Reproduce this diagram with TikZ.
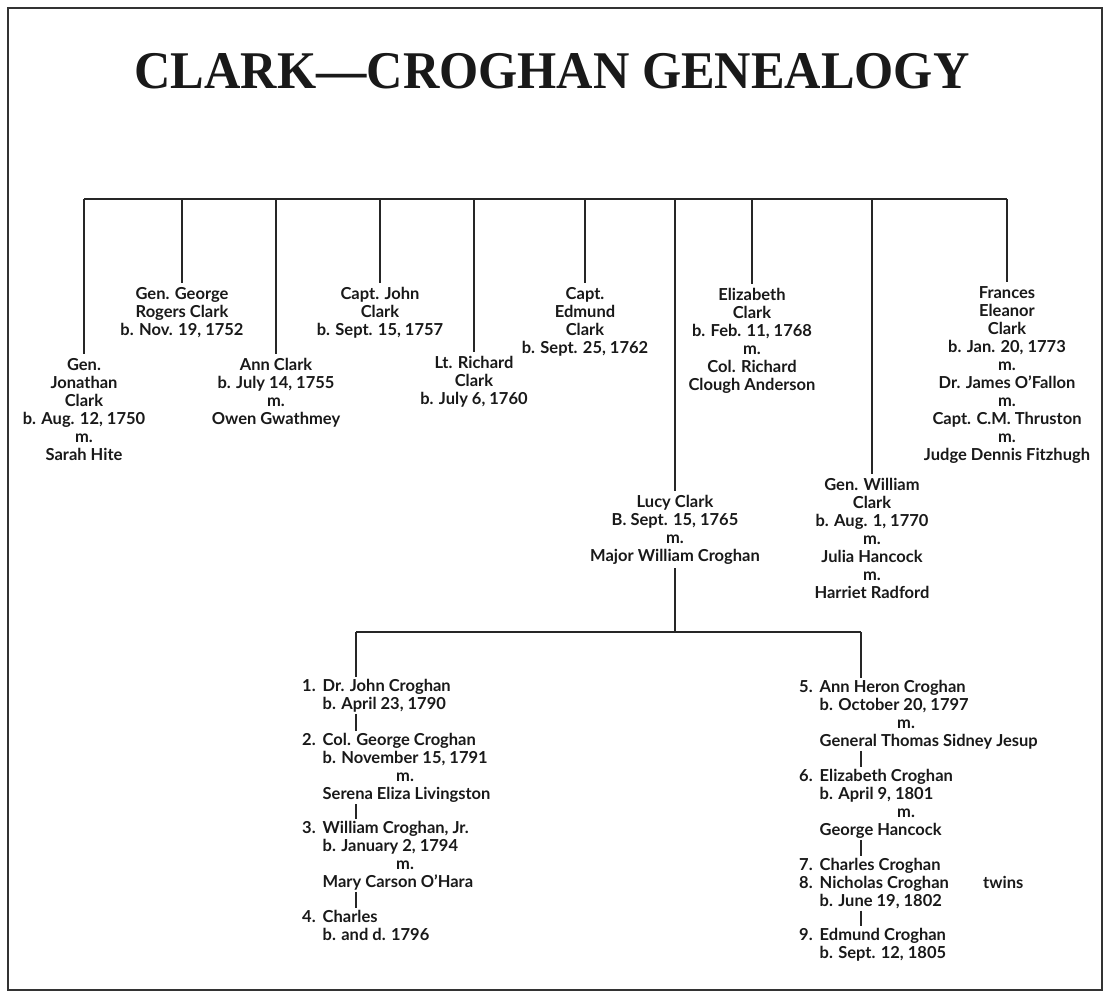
\documentclass[tikz,border=0pt]{standalone}
\usepackage{fontspec}
\setmainfont{Lato}
\newfontfamily\titleserif{Liberation Serif}
\newcommand{\bodyfont}{\fontsize{16.5}{18}\selectfont\bfseries}
\newcommand{\numl}[2]{\makebox[20.5pt][l]{#1}#2}
\newcommand{\indl}[1]{\hspace*{20.5pt}#1}
\newcommand{\marl}{\hspace*{94pt}m.}
\begin{document}
\begin{tikzpicture}[x=1pt,y=-1pt,
  person/.style={align=center, font=\bodyfont, inner xsep=2pt, inner ysep=4pt, anchor=base, text=black!90},
  kid/.style={align=left, font=\bodyfont, inner xsep=0pt, inner ysep=2pt, anchor=base west, text=black!90},
  link/.style={line width=1.4pt, draw=black!85},
  frame/.style={line width=1.8pt, draw=black!80}]
\useasboundingbox (0,0) rectangle (1106,996);
\draw[frame] (8,8) rectangle (1102,990);

\node[anchor=base, font=\titleserif\bfseries\fontsize{53}{60}\selectfont, text=black!90] (title) at (552,88)
  {\scalebox{0.95}[1]{CLARK—CROGHAN GENEALOGY}};

% helper coordinates
\coordinate (topbar) at (0,199);
\coordinate (botbar) at (0,632);
\coordinate (lxl) at (356,0);
\coordinate (lxr) at (861,0);

% generation 1 (anchor = baseline of last line)
\node[person] (jon)  at (84,460)  {Gen.\\Jonathan\\Clark\\b. Aug. 12, 1750\\m.\\Sarah Hite};
\node[person] (geo)  at (182,335) {Gen. George\\Rogers Clark\\b. Nov. 19, 1752};
\node[person] (ann)  at (276,424) {Ann Clark\\b. July 14, 1755\\m.\\Owen Gwathmey};
\node[person] (john) at (380,335) {Capt. John\\Clark\\b. Sept. 15, 1757};
\node[person] (rich) at (474,404) {Lt. Richard\\Clark\\b. July 6, 1760};
\node[person] (edm)  at (585,353) {Capt.\\Edmund\\Clark\\b. Sept. 25, 1762};
\node[person] (lucy) at (675,561) {Lucy Clark\\B. Sept. 15, 1765\\m.\\Major William Croghan};
\node[person] (eliz) at (752,390) {Elizabeth\\Clark\\b. Feb. 11, 1768\\m.\\Col. Richard\\Clough Anderson};
\node[person] (will) at (872,598) {Gen. William\\Clark\\b. Aug. 1, 1770\\m.\\Julia Hancock\\m.\\Harriet Radford};
\node[person] (fran) at (1007,460) {Frances\\Eleanor\\Clark\\b. Jan. 20, 1773\\m.\\Dr. James O’Fallon\\m.\\Capt. C.M. Thruston\\m.\\Judge Dennis Fitzhugh};

\draw[link] (jon.north |- topbar) -- (fran.north |- topbar);
\foreach \p in {jon,geo,ann,john,rich,edm,lucy,eliz,will,fran}
  \draw[link] (\p.north |- topbar) -- (\p.north);

% generation 2
\node[kid] (k1) at (302,709) {\numl{1.}{Dr. John Croghan}\\\indl{b. April 23, 1790}};
\node[kid] (k2) at (302,799) {\numl{2.}{Col. George Croghan}\\\indl{b. November 15, 1791}\\\marl\\\indl{Serena Eliza Livingston}};
\node[kid] (k3) at (302,887) {\numl{3.}{William Croghan, Jr.}\\\indl{b. January 2, 1794}\\\marl\\\indl{Mary Carson O’Hara}};
\node[kid] (k4) at (302,940) {\numl{4.}{Charles}\\\indl{b. and d. 1796}};

\node[kid] (k5) at (799,746) {\numl{5.}{Ann Heron Croghan}\\\indl{b. October 20, 1797}\\\hspace*{98pt}m.\\\indl{General Thomas Sidney Jesup}};
\node[kid] (k6) at (799,835) {\numl{6.}{Elizabeth Croghan}\\\indl{b. April 9, 1801}\\\hspace*{98pt}m.\\\indl{George Hancock}};
\node[kid] (k7) at (799,906) {\numl{7.}{Charles Croghan}\\\numl{8.}{Nicholas Croghan}\\\indl{b. June 19, 1802}};
\node[kid] (twins) at (983,888) {twins};
\node[kid] (k9) at (799,958) {\numl{9.}{Edmund Croghan}\\\indl{b. Sept. 12, 1805}};

\draw[link] (lucy.south) -- (lucy.south |- botbar);
\draw[link] (lxl |- botbar) -- (lxr |- botbar);
\draw[link] (lxl |- botbar) -- (k1.north -| lxl);
\draw[link] (lxr |- botbar) -- (k5.north -| lxr);

\draw[link] (k1.south -| lxl) -- (k2.north -| lxl);
\draw[link] (k2.south -| lxl) -- (k3.north -| lxl);
\draw[link] (k3.south -| lxl) -- (k4.north -| lxl);
\draw[link] (k5.south -| lxr) -- (k6.north -| lxr);
\draw[link] (k6.south -| lxr) -- (k7.north -| lxr);
\draw[link] (k7.south -| lxr) -- (k9.north -| lxr);
\end{tikzpicture}
\end{document}
